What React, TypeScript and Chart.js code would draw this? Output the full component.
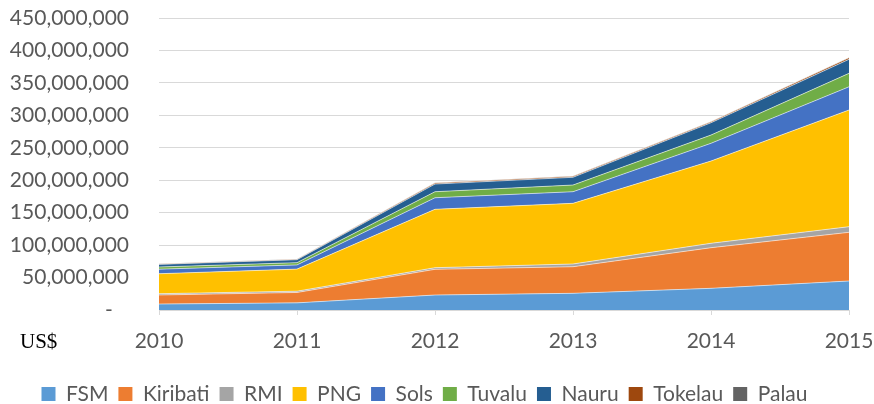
import { useEffect, useRef } from 'react';
import { Chart, registerables } from 'chart.js';

Chart.register(...registerables);

const years = ['2010', '2011', '2012', '2013', '2014', '2015'];
const seriesNames = ['FSM', 'Kiribati', 'RMI', 'PNG', 'Sols', 'Tuvalu', 'Nauru', 'Tokelau', 'Palau'];
const seriesColors = ['#5B9BD5', '#ED7D31', '#A5A5A5', '#FFC000', '#4472C4', '#70AD47', '#255E91', '#9E480E', '#636363'];

const fsm = [9200000, 11000000, 23100000, 25700000, 33400000, 44700000];
const kiribati = [13900000, 16000000, 39600000, 41000000, 62600000, 75000000];
const rmi = [2000000, 2000000, 2500000, 4200000, 6800000, 8700000];
const png = [30800000, 34000000, 90000000, 93500000, 126800000, 179800000];
const sols = [7000000, 6500000, 17800000, 17900000, 27300000, 35800000];
const tuvalu = [3400000, 3500000, 9300000, 10300000, 12700000, 20700000];
const nauru = [4000000, 4500000, 11800000, 11900000, 19000000, 21600000];
const tokelau = [500000, 800000, 1500000, 1500000, 1500000, 2500000];
const palau = [300000, 400000, 500000, 500000, 500000, 500000];

const yMin = 0;
const yMax = 450000000;
const yStep = 50000000;
const unitLabel = 'US$';

const seriesValues = [fsm, kiribati, rmi, png, sols, tuvalu, nauru, tokelau, palau];

const FONT = 'Lato, "Open Sans", sans-serif';
const TEXT = '#595959';
const GRID = '#d9d9d9';

export default function App() {
  const ref = useRef<HTMLCanvasElement | null>(null);

  useEffect(() => {
    if (!ref.current) return;
    const legendFit = {
      id: 'legendFit',
      beforeInit(chart: any) {
        if (!chart.legend) return;
        const orig = chart.legend.fit;
        chart.legend.fit = function () {
          const mw = this.maxWidth;
          this.maxWidth = 2000;
          orig.call(this);
          this.maxWidth = mw;
          this.width = mw;
          this.height = 30.5;
        };
      },
    };
    const unitText = {
      id: 'unitText',
      afterDraw(chart: any) {
        const ctx = chart.ctx;
        ctx.save();
        ctx.font = '21px "Liberation Serif", "Times New Roman", serif';
        ctx.fillStyle = '#000000';
        ctx.textAlign = 'left';
        ctx.textBaseline = 'alphabetic';
        ctx.fillText(unitLabel, 20, 348);
        ctx.restore();
      },
    };
    const chart = new Chart(ref.current, {
      type: 'line',
      data: {
        labels: years,
        datasets: seriesNames.map((name, i) => ({
          label: name,
          data: seriesValues[i],
          backgroundColor: seriesColors[i],
          borderColor: 'rgba(255,255,255,0.55)',
          borderWidth: 1,
          pointRadius: 0,
          pointHoverRadius: 0,
          tension: 0,
          fill: i === 0 ? 'origin' : '-1',
        })),
      },
      options: {
        animation: false,
        responsive: false,
        maintainAspectRatio: false,
        layout: { padding: { top: 18, right: 25, left: 0, bottom: 0 } },
        plugins: {
          tooltip: { enabled: false },
          legend: {
            position: 'bottom',
            labels: {
              font: { family: FONT, size: 21 },
              color: TEXT,
              boxWidth: 14,
              boxHeight: 14,
              padding: 10,
              generateLabels: (chart: any) =>
                chart.data.datasets.map((ds: any, i: number) => ({
                  text: ds.label,
                  fillStyle: seriesColors[i],
                  strokeStyle: seriesColors[i],
                  lineWidth: 0,
                  hidden: false,
                  datasetIndex: i,
                  fontColor: TEXT,
                })),
            },
          },
        },
        scales: {
          x: {
            type: 'category',
            offset: false,
            grid: {
              display: true,
              drawOnChartArea: false,
              drawTicks: true,
              tickLength: 5,
              color: GRID,
            },
            border: { display: true, color: GRID },
            ticks: {
              font: { family: FONT, size: 21 },
              color: TEXT,
              padding: 14,
              maxRotation: 0,
            },
            afterFit: (scale: any) => {
              scale.height = 63.5;
              scale.paddingLeft = 0;
              scale.paddingRight = 0;
            },
          },
          y: {
            stacked: true,
            min: yMin,
            max: yMax,
            grid: { color: GRID, drawTicks: false },
            border: { display: false },
            ticks: {
              stepSize: yStep,
              font: { family: FONT, size: 21 },
              color: TEXT,
              padding: 30,
              callback: (v: any) => (Number(v) === 0 ? '-   ' : Number(v).toLocaleString('en-US')),
            },
            afterFit: (scale: any) => {
              scale.width = 159;
              scale.paddingTop = 0;
              scale.paddingBottom = 0;
            },
          },
        },
      },
      plugins: [legendFit, unitText],
    });
    return () => chart.destroy();
  }, []);

  return (
    <div style={{ position: 'fixed', left: 0, top: 0, width: 874, height: 404, background: '#ffffff' }}>
      <canvas ref={ref} width={874} height={404} style={{ display: 'block' }} />
    </div>
  );
}
